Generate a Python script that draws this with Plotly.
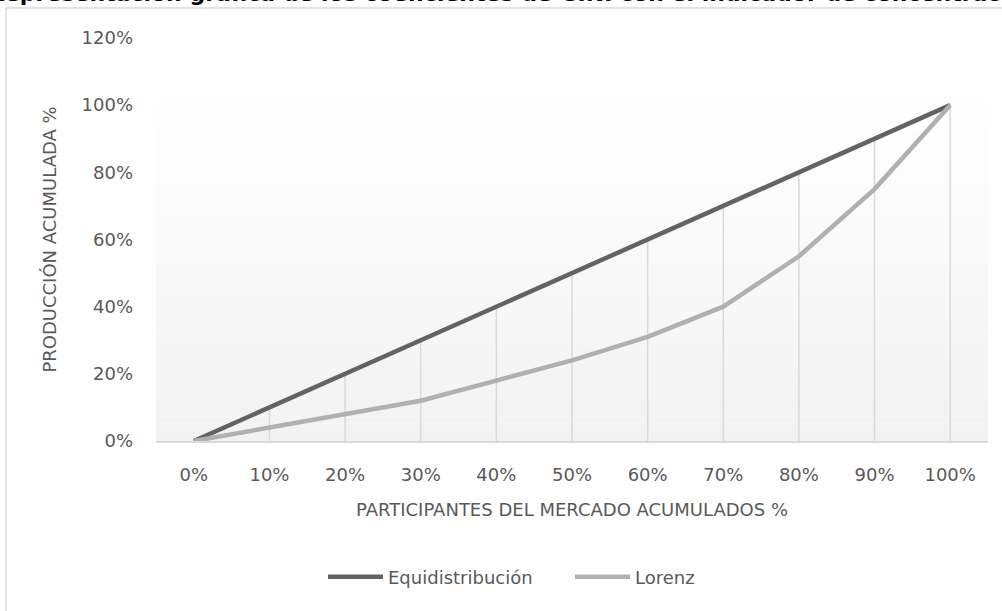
import plotly.graph_objects as go

categories = ["0%", "10%", "20%", "30%", "40%", "50%", "60%", "70%", "80%", "90%", "100%"]
equidistribucion = [0.0, 0.10, 0.20, 0.30, 0.40, 0.50, 0.60, 0.70, 0.80, 0.90, 1.00]
lorenz = [0.0, 0.04, 0.08, 0.12, 0.18, 0.24, 0.31, 0.40, 0.55, 0.75, 1.00]
y_ticks = [0, 0.2, 0.4, 0.6, 0.8, 1.0, 1.2]
title_text = "Representación gráfica de los coeficientes de GINI con el indicador de concentración"

W, H = 1002, 611
L, R, T, B = 156, 14, 38, 170
pw, ph = W - L - R, H - T - B

def px_x(p):
    return (p - L) / pw

def px_y(p):
    return (H - B - p) / ph

font_family = "'DejaVu Sans', sans-serif"
text_color = "#595959"
fs = 18

fig = go.Figure()

# drop lines from the upper series down to the axis
dx, dy = [], []
for c, v in zip(categories, equidistribucion):
    dx += [c, c, None]
    dy += [0, v, None]
fig.add_trace(go.Scatter(x=dx, y=dy, mode="lines", line=dict(color="#d9d9d9", width=1.5),
                         hoverinfo="skip", showlegend=False))

fig.add_trace(go.Scatter(x=categories, y=equidistribucion, mode="lines", name="Equidistribución",
                         line=dict(color="#636363", width=4.5)))
fig.add_trace(go.Scatter(x=categories, y=lorenz, mode="lines", name="Lorenz",
                         line=dict(color="#b0b0b0", width=4.5)))

# gradient plot background (white top -> light gray bottom)
shapes = []
n = 60
top_frac = px_y(90)
for i in range(n):
    y0 = top_frac * i / n
    y1 = top_frac * (i + 1) / n
    t = (i + 0.5) / n  # 0 bottom, 1 top
    g = round(242 + (255 - 242) * t)
    shapes.append(dict(type="rect", xref="paper", yref="paper", x0=0, x1=1, y0=y0, y1=y1,
                       fillcolor=f"rgb({g},{g},{g})", line=dict(width=0), layer="below"))
# chart border
shapes.append(dict(type="rect", xref="paper", yref="paper", x0=px_x(6), x1=px_x(1010),
                   y0=px_y(640), y1=px_y(8), line=dict(color="#d9d9d9", width=1.5),
                   fillcolor="rgba(0,0,0,0)", layer="below"))

fig.update_layout(
    width=W, height=H,
    margin=dict(l=L, r=R, t=T, b=B, pad=0),
    paper_bgcolor="white", plot_bgcolor="rgba(0,0,0,0)",
    font=dict(family=font_family, color=text_color, size=fs),
    shapes=shapes,
    showlegend=True,
    legend=dict(orientation="h", x=px_x(323), xanchor="left", y=px_y(577), yanchor="middle",
                font=dict(size=fs, color=text_color), itemwidth=55, entrywidth=177,
                bgcolor="rgba(0,0,0,0)"),
    annotations=[dict(text=f"<b>{title_text}</b>", xref="paper", yref="paper",
                      x=px_x(-14), xanchor="left", y=px_y(-6.2), yanchor="middle",
                      showarrow=False,
                      font=dict(size=22, color="black", family="'DejaVu Sans', sans-serif"))],
)

fig.update_xaxes(type="category", range=[-0.5, 10.5], showgrid=False, zeroline=False,
                 showline=True, linecolor="#d9d9d9", linewidth=1.5, ticks="",
                 tickfont=dict(size=fs, color=text_color), ticklabelstandoff=17,
                 title=dict(text="PARTICIPANTES DEL MERCADO ACUMULADOS %", standoff=19,
                            font=dict(size=fs, color=text_color)))
fig.update_yaxes(range=[0, 1.2], tickvals=y_ticks, tickformat=".0%", showgrid=False,
                 zeroline=False, showline=False, ticks="",
                 tickfont=dict(size=fs, color=text_color), ticklabelstandoff=22,
                 title=dict(text="PRODUCCIÓN ACUMULADA %", standoff=20,
                            font=dict(size=fs, color=text_color)))

fig.write_html("out.html")
